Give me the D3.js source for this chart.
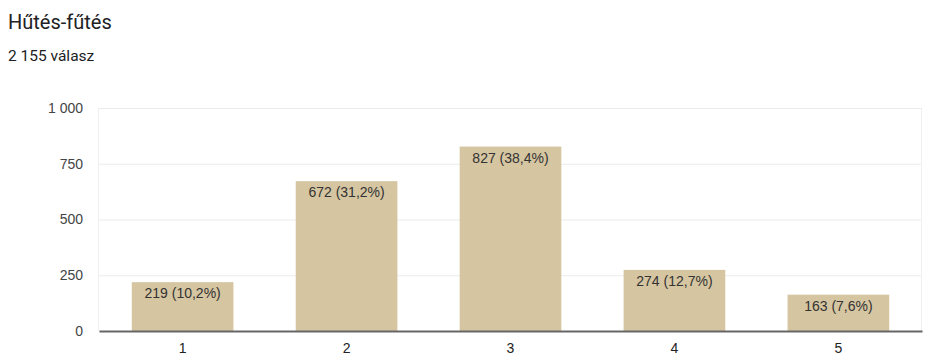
<!DOCTYPE html>
<html>
<head>
<meta charset="utf-8">
<script src="https://cdn.jsdelivr.net/npm/d3@7"></script>
<style>
  body { margin: 0; background: #fff; }
</style>
</head>
<body>
<div id="root"></div>
<script>
// chart data
var categories = ["1", "2", "3", "4", "5"]
var counts = [219, 672, 827, 274, 163]
var percents = ["10,2", "31,2", "38,4", "12,7", "7,6"]
var yTicks = [0, 250, 500, 750, 1000]
var yTickLabels = ["0", "250", "500", "750", "1 000"]
var title = "Hűtés-fűtés"
var subtitle = "2 155 válasz"

var W = 929, H = 361
var margin = {top: 108, right: 7, bottom: 30, left: 99}
var width = W - margin.left - margin.right
var height = H - margin.top - margin.bottom

var root = d3.select("#root").append("svg")
    .attr("width", W)
    .attr("height", H)

root.append("text")
    .attr("x", 8).attr("y", 29)
    .attr("font-family", "Roboto, sans-serif")
    .attr("font-size", 20)
    .attr("fill", "#202124")
    .text(title)

root.append("text")
    .attr("x", 8).attr("y", 61)
    .attr("font-family", "Roboto, sans-serif")
    .attr("font-size", 15.5)
    .attr("fill", "#202124")
    .text(subtitle)

var svg = root.append("g")
    .attr("transform", "translate(" + margin.left + "," + margin.top + ")")

var x = d3.scaleBand()
    .domain(categories)
    .range([0, width])
    .paddingInner(0.38)
    .paddingOuter(0.2)

var y = d3.scaleLinear()
    .domain([0, 1000])
    .range([height, 0])

// gridlines
svg.selectAll(".grid")
    .data(yTicks)
    .enter()
    .append("line")
      .attr("x1", 0)
      .attr("x2", width)
      .attr("y1", function(d){ return y(d) + 0.5 })
      .attr("y2", function(d){ return y(d) + 0.5 })
      .attr("stroke", "#ebebeb")

// side borders
svg.selectAll(".side")
    .data([0, width])
    .enter()
    .append("line")
      .attr("x1", function(d){ return d - 0.5 })
      .attr("x2", function(d){ return d - 0.5 })
      .attr("y1", y(1000))
      .attr("y2", y(0))
      .attr("stroke", "#f0f0f0")

// y axis labels
var yAxis = svg.append("g")
    .call(d3.axisLeft(y).tickValues(yTicks)
      .tickFormat(function(d, i){ return yTickLabels[i] })
      .tickSize(0).tickPadding(16))
yAxis.select(".domain").remove()
yAxis.selectAll("text")
    .attr("font-family", "'Liberation Sans', Arial, sans-serif")
    .attr("font-size", 14)
    .attr("fill", "#444")

// bars
svg.selectAll(".bar")
    .data(counts)
    .enter()
    .append("rect")
      .attr("x", function(d, i){ return x(categories[i]) })
      .attr("y", function(d){ return y(d) })
      .attr("width", x.bandwidth())
      .attr("height", function(d){ return height - y(d) })
      .attr("fill", "#d5c5a1")

// bar labels
svg.selectAll(".lbl")
    .data(counts)
    .enter()
    .append("text")
      .attr("x", function(d, i){ return x(categories[i]) + x.bandwidth() / 2 })
      .attr("y", function(d){ return y(d) + 16 })
      .attr("text-anchor", "middle")
      .attr("font-family", "'Liberation Sans', Arial, sans-serif")
      .attr("font-size", 14)
      .attr("fill", "#333")
      .text(function(d, i){ return d + " (" + percents[i] + "%)" })

// x axis
var xAxis = svg.append("g")
    .attr("transform", "translate(0," + height + ")")
    .call(d3.axisBottom(x).tickSize(0).tickPadding(12))
xAxis.select(".domain")
    .attr("stroke", "#666")
    .attr("stroke-width", 2)
xAxis.selectAll("text")
    .attr("font-family", "'Liberation Sans', Arial, sans-serif")
    .attr("font-size", 14)
    .attr("fill", "#222")
</script>
</body>
</html>
